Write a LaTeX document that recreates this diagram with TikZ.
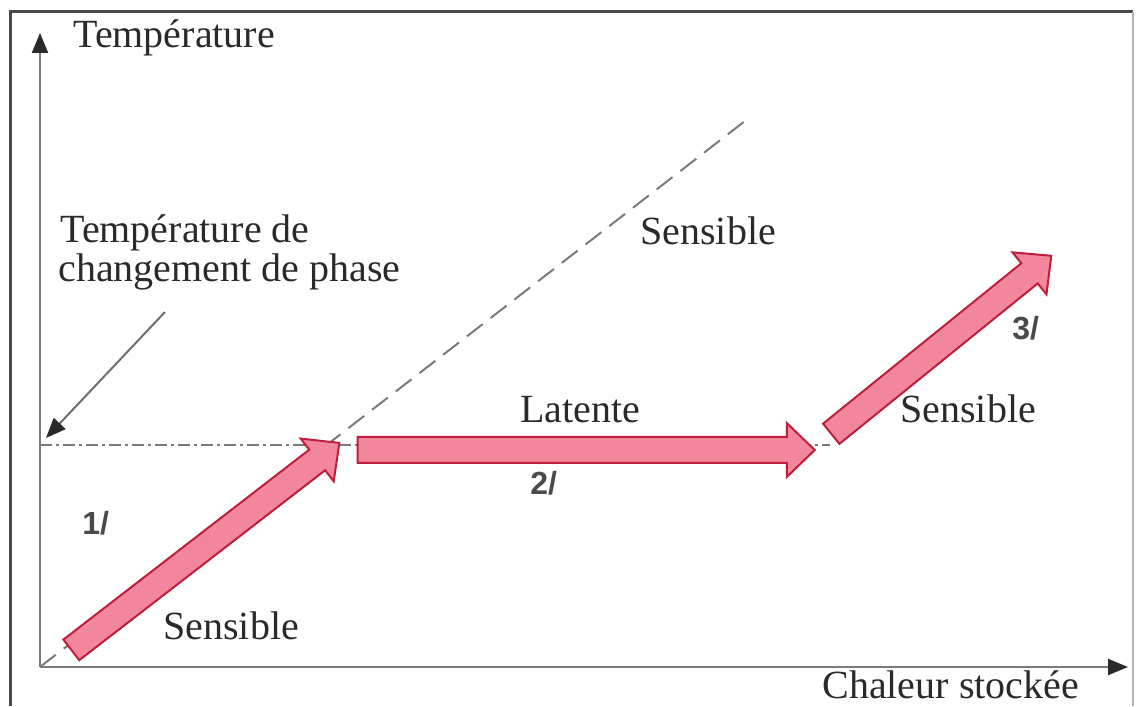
\documentclass[tikz,border=0pt]{standalone}
\usepackage{fontspec}
\setmainfont{Liberation Serif}
\setsansfont{Liberation Sans}
\usetikzlibrary{arrows.meta,positioning,calc,shapes.arrows}
\definecolor{rose}{HTML}{F2879B}
\definecolor{bordeaux}{HTML}{BE1E3C}
\definecolor{gris}{HTML}{7A7A7A}
\definecolor{encre}{HTML}{2A2A2A}
\tikzset{
  >={Triangle[length=10pt,width=8pt,color=encre]},
  % cadre et axes
  cadre/.style={draw=encre!85,line width=1.5pt},
  axe/.style={->,draw=gris,line width=1.1pt},
  tirets/.style={draw=gris,line width=1pt,dash pattern=on 10pt off 5pt},
  mixte/.style={draw=gris,line width=1pt,dash pattern=on 6pt off 2pt on 1.5pt off 2pt},
  % textes
  txt/.style={anchor=base west,inner sep=0pt,text=encre,font=\fontsize{20}{24}\selectfont},
  num/.style={anchor=base west,inner sep=0pt,text=encre!85,
              font=\sffamily\bfseries\fontsize{16}{19}\selectfont},
  % grosses flèches
  bloc/.style={single arrow,draw=bordeaux,fill=rose,line width=1pt,inner xsep=0pt,
               inner ysep=6pt,single arrow head extend=7pt,single arrow tip angle=88},
}
\begin{document}
\begin{tikzpicture}[x=0.5pt,y=0.5pt]
  \useasboundingbox (0,0) rectangle (1139,706);
  \draw[cadre] (10,0) -- (10,694) -- (1133,694);
  \draw[draw=black!30,line width=1pt] (1133,694) -- (1133,0);

  \coordinate (O) at (40,39);
  \coordinate (ymax) at (40,673);
  \coordinate (xmax) at (1128,39);
  \coordinate (Tf) at (40,261);
  \coordinate (Tfe) at (830,261);
  \coordinate (D) at (745,585);
  \coordinate (a1) at (66,52);   \coordinate (b1) at (334,259);
  \coordinate (a2) at (351,256); \coordinate (b2) at (808,256);
  \coordinate (a3) at (826,268); \coordinate (b3) at (1046,446);
  \coordinate (p0) at (165,394); \coordinate (p1) at (46,268);

  \draw[axe] (O) -- (ymax);
  \draw[axe] (O) -- (xmax);
  \draw[mixte] (Tf) -- (Tfe);
  \draw[tirets] (O) -- (D);
  \draw[->,draw=gris!90!black,line width=1pt] (p0) -- (p1);

  \path let \p1=($(b1)-(a1)$) in node[bloc,minimum height={veclen(\x1,\y1)},
    rotate={atan2(\y1,\x1)}] (f1) at ($(a1)!.5!(b1)$) {};
  \path let \p1=($(b2)-(a2)$) in node[bloc,minimum height={veclen(\x1,\y1)},
    rotate={atan2(\y1,\x1)}] (f2) at ($(a2)!.5!(b2)$) {};
  \path let \p1=($(b3)-(a3)$) in node[bloc,minimum height={veclen(\x1,\y1)},
    rotate={atan2(\y1,\x1)}] (f3) at ($(a3)!.5!(b3)$) {};

  \node[txt] (temp) at (73,658) {Température};
  \node[txt] (tc1) at (60,463) {Température de};
  \node[txt] (tc2) at (58,424) {changement de phase};
  \node[txt] (sens1) at (640,461) {Sensible};
  \node[txt] (lat) at (520,283) {Latente};
  \node[txt] (sens3) at (900,283) {Sensible};
  \node[txt] (sens0) at (163,66) {Sensible};
  \node[txt] (chal) at (822,8) {Chaleur stockée};
  \node[num] (n1) at (82,171) {1/};
  \node[num] (n2) at (530,211) {2/};
  \node[num] (n3) at (1012,366) {3/};
\end{tikzpicture}
\end{document}
